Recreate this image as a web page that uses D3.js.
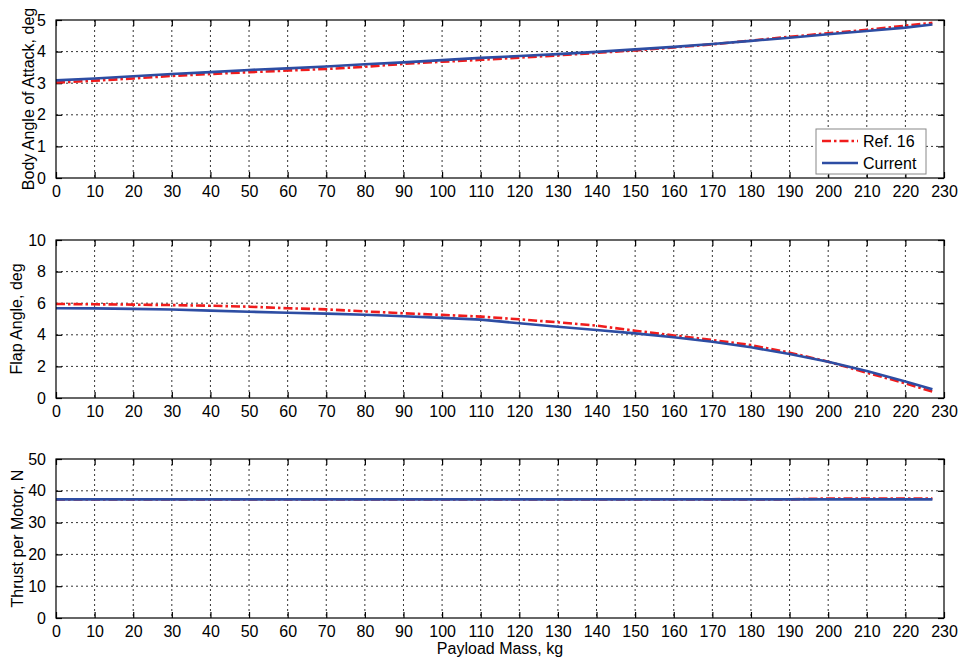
<!DOCTYPE html>
<html><head><meta charset="utf-8">
<script src="https://cdn.jsdelivr.net/npm/d3@7"></script>
<style>body{margin:0;background:#fff;} svg{display:block;font-family:Arial,"Liberation Sans",sans-serif;}</style>
</head><body>
<svg id="c" width="964" height="662"></svg>
<script>
const payload = [0,10,20,30,40,50,60,70,80,90,100,110,120,130,140,150,160,170,180,190,200,210,220,227];
const aoaRef = [3.02,3.08,3.15,3.23,3.29,3.35,3.40,3.45,3.52,3.61,3.68,3.74,3.81,3.88,3.96,4.04,4.13,4.23,4.35,4.47,4.58,4.69,4.82,4.91];
const aoaCur = [3.09,3.15,3.22,3.29,3.35,3.42,3.47,3.53,3.60,3.66,3.73,3.80,3.86,3.92,3.99,4.07,4.15,4.24,4.34,4.44,4.55,4.65,4.76,4.86];
const flapRef = [5.95,5.93,5.91,5.88,5.84,5.78,5.68,5.61,5.48,5.36,5.26,5.15,4.98,4.79,4.58,4.26,3.96,3.67,3.35,2.87,2.30,1.60,0.93,0.40];
const flapCur = [5.68,5.67,5.64,5.60,5.53,5.46,5.40,5.34,5.27,5.17,5.07,4.96,4.73,4.51,4.30,4.09,3.84,3.56,3.21,2.78,2.30,1.71,1.05,0.55];
const thrustRef = [37.3,37.3,37.3,37.3,37.3,37.3,37.3,37.3,37.3,37.3,37.3,37.3,37.3,37.3,37.3,37.3,37.3,37.3,37.3,37.3,37.6,37.6,37.6,37.6];
const thrustCur = [37.3,37.3,37.3,37.3,37.3,37.3,37.3,37.3,37.3,37.3,37.3,37.3,37.3,37.3,37.3,37.3,37.3,37.3,37.3,37.3,37.3,37.3,37.3,37.3];
const xTicks = d3.range(0,231,10);
const legendLabels = ["Ref. 16","Current"];

const panels = [
  {top:20,bottom:178,ymax:5,yTicks:[0,1,2,3,4,5],label:"Body Angle of Attack, deg",labelX:28,ref:aoaRef,cur:aoaCur,legend:true},
  {top:240,bottom:398,ymax:10,yTicks:[0,2,4,6,8,10],label:"Flap Angle, deg",labelX:16,ref:flapRef,cur:flapCur},
  {top:459,bottom:618,ymax:50,yTicks:[0,10,20,30,40,50],label:"Thrust per Motor, N",labelX:17,ref:thrustRef,cur:thrustCur}
];
const L=56, R=944;
const svg=d3.select("#c");
const x=d3.scaleLinear().domain([0,230]).range([L,R]);
const RED="#f01c1c", BLUE="#2d4da3";
const fmt=d3.format("d");

panels.forEach(p=>{
  const y=d3.scaleLinear().domain([0,p.ymax]).range([p.bottom,p.top]);
  const g=svg.append("g");
  g.append("g").selectAll("line").data(xTicks.slice(1,-1)).join("line")
    .attr("x1",d=>x(d)).attr("x2",d=>x(d)).attr("y1",p.top).attr("y2",p.bottom)
    .attr("stroke","#000").attr("stroke-width",0.8).attr("stroke-dasharray","2,3");
  g.append("g").selectAll("line").data(p.yTicks.slice(1,-1)).join("line")
    .attr("x1",L).attr("x2",R).attr("y1",d=>y(d)).attr("y2",d=>y(d))
    .attr("stroke","#000").attr("stroke-width",0.8).attr("stroke-dasharray","2,3");
  const xb=d3.axisBottom(x).tickValues(xTicks).tickFormat(fmt).tickSizeInner(-6).tickSizeOuter(0).tickPadding(8);
  g.append("g").attr("transform",`translate(0,${p.bottom})`).call(xb)
    .call(s=>s.select(".domain").remove())
    .call(s=>s.selectAll("text").attr("font-size",16).attr("font-family","Arial,'Liberation Sans'").attr("fill","#000"));
  const xt=d3.axisTop(x).tickValues(xTicks).tickSizeInner(-6).tickSizeOuter(0).tickFormat("");
  g.append("g").attr("transform",`translate(0,${p.top})`).call(xt).call(s=>s.select(".domain").remove());
  const yl=d3.axisLeft(y).tickValues(p.yTicks).tickFormat(fmt).tickSizeInner(-6).tickSizeOuter(0).tickPadding(10);
  g.append("g").attr("transform",`translate(${L},0)`).call(yl)
    .call(s=>s.select(".domain").remove())
    .call(s=>s.selectAll("text").attr("font-size",16).attr("font-family","Arial,'Liberation Sans'").attr("fill","#000"));
  const yr=d3.axisRight(y).tickValues(p.yTicks).tickSizeInner(-6).tickSizeOuter(0).tickFormat("");
  g.append("g").attr("transform",`translate(${R},0)`).call(yr).call(s=>s.select(".domain").remove());
  g.selectAll(".tick line").attr("stroke","#000").attr("stroke-width",1.2);
  const line=d3.line().x((d,i)=>x(payload[i])).y(d=>y(d));
  g.append("path").datum(p.ref).attr("d",line).attr("fill","none").attr("stroke",RED)
    .attr("stroke-width",2.6).attr("stroke-dasharray","9,3,2.5,3");
  g.append("path").datum(p.cur).attr("d",line).attr("fill","none").attr("stroke",BLUE)
    .attr("stroke-width",2.6);
  g.append("rect").attr("x",L).attr("y",p.top).attr("width",R-L).attr("height",p.bottom-p.top)
    .attr("fill","none").attr("stroke","#000").attr("stroke-width",1.2);
  g.append("text").attr("transform",`translate(${p.labelX},${(p.top+p.bottom)/2}) rotate(-90)`)
    .attr("text-anchor","middle").attr("dy","0.35em").attr("font-size",16).text(p.label);
  if(p.legend){
    const lg=g.append("g");
    lg.append("rect").attr("x",816).attr("y",129).attr("width",110).attr("height",45)
      .attr("fill","#fff").attr("stroke","#888").attr("stroke-width",1);
    const cols=[RED,BLUE], dash=["9,3,2.5,3",null];
    legendLabels.forEach((t,i)=>{
      const yy=141+i*22;
      lg.append("line").attr("x1",822).attr("x2",858).attr("y1",yy).attr("y2",yy)
        .attr("stroke",cols[i]).attr("stroke-width",2.6).attr("stroke-dasharray",dash[i]);
      lg.append("text").attr("x",863).attr("y",yy).attr("dy","0.35em").attr("font-size",16).text(t);
    });
  }
});
svg.append("text").attr("x",(L+R)/2).attr("y",654).attr("text-anchor","middle")
  .attr("font-size",16).text("Payload Mass, kg");
</script>
</body></html>
